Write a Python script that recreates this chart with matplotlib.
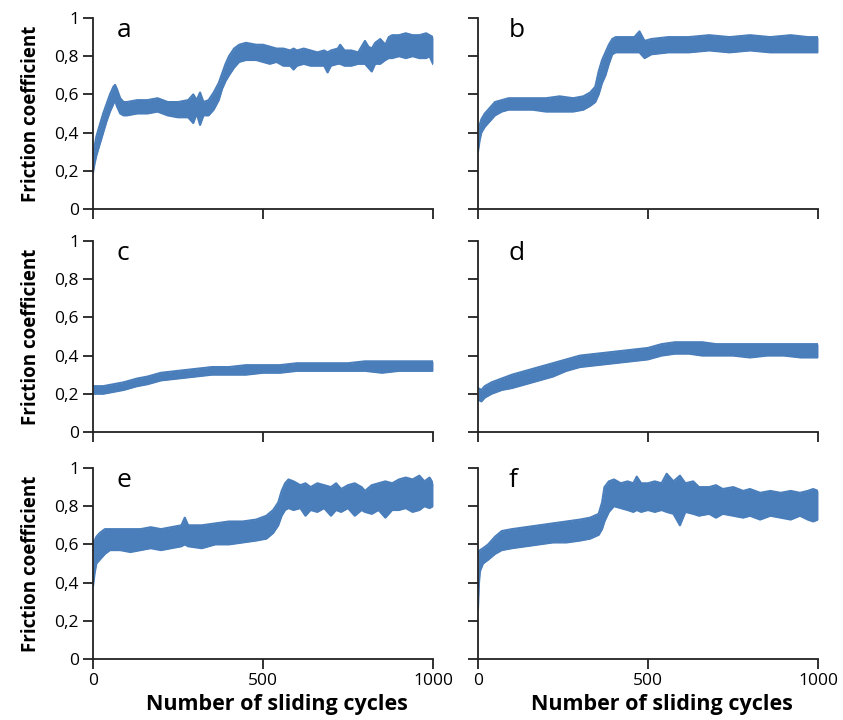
import numpy as np
import matplotlib.pyplot as plt

# friction coefficient bands (lower / upper edge of the noisy trace)
a_x = [0, 5, 10, 20, 30, 40, 50, 60, 65, 70, 80, 90, 100, 130, 160, 190, 220, 250, 280, 295,
       305, 315, 325, 340, 355, 370, 380, 390, 400, 415,
       430, 450, 480, 500, 520, 540, 560, 580, 590, 600, 620, 640, 660, 680, 690, 700, 720, 727, 740, 760,
       780, 800, 810, 820, 830, 845, 860, 870, 880, 900, 920, 940, 960, 980, 990, 1000]
a_lo = [0.19, 0.24, 0.28, 0.34, 0.40, 0.46, 0.51, 0.55, 0.57, 0.54, 0.50, 0.49, 0.49, 0.50, 0.50, 0.51, 0.49, 0.48, 0.48, 0.45,
        0.50, 0.44, 0.49, 0.49, 0.52, 0.57, 0.63, 0.67, 0.70, 0.74,
        0.77, 0.78, 0.78, 0.77, 0.76, 0.77, 0.75, 0.75, 0.73, 0.75, 0.76, 0.75, 0.75, 0.75, 0.715, 0.75, 0.76, 0.76, 0.75, 0.75,
        0.76, 0.76, 0.74, 0.72, 0.76, 0.76, 0.78, 0.79, 0.79, 0.80, 0.79, 0.80, 0.79, 0.79, 0.80, 0.76]
a_hi = [0.28, 0.33, 0.38, 0.44, 0.50, 0.55, 0.60, 0.64, 0.65, 0.63, 0.58, 0.56, 0.56, 0.57, 0.57, 0.58, 0.56, 0.56, 0.57, 0.60,
        0.57, 0.61, 0.56, 0.57, 0.61, 0.66, 0.71, 0.76, 0.80, 0.84,
        0.86, 0.87, 0.86, 0.86, 0.85, 0.84, 0.84, 0.83, 0.84, 0.83, 0.84, 0.83, 0.82, 0.83, 0.82, 0.83, 0.84, 0.86, 0.83, 0.83,
        0.82, 0.88, 0.85, 0.84, 0.87, 0.89, 0.86, 0.90, 0.91, 0.91, 0.92, 0.91, 0.91, 0.92, 0.91, 0.90]

b_x = [0, 5, 10, 20, 35, 50, 70, 90, 120, 160, 200, 240, 280, 310, 330, 345, 355, 365, 375, 385,
       395, 405, 430, 460, 475, 490, 510, 560, 620, 680, 740, 800, 860, 920, 970, 1000]
b_lo = [0.30, 0.36, 0.40, 0.43, 0.46, 0.49, 0.51, 0.52, 0.52, 0.52, 0.51, 0.51, 0.51, 0.52, 0.54, 0.56, 0.60, 0.66, 0.70, 0.76,
        0.81, 0.82, 0.82, 0.82, 0.82, 0.79, 0.81, 0.82, 0.82, 0.83, 0.82, 0.83, 0.82, 0.82, 0.82, 0.82]
b_hi = [0.42, 0.44, 0.47, 0.50, 0.53, 0.56, 0.57, 0.58, 0.58, 0.58, 0.58, 0.59, 0.58, 0.59, 0.61, 0.64, 0.72, 0.78, 0.82, 0.86,
        0.89, 0.90, 0.90, 0.90, 0.93, 0.88, 0.89, 0.90, 0.90, 0.91, 0.90, 0.91, 0.90, 0.91, 0.90, 0.90]

c_x = [0, 30, 60, 90, 110, 130, 160, 200, 250, 300, 350, 400, 450, 500, 550, 600, 650, 700, 750, 800,
       850, 900, 950, 1000]
c_lo = [0.20, 0.20, 0.21, 0.22, 0.23, 0.24, 0.25, 0.27, 0.28, 0.29, 0.30, 0.30, 0.30, 0.31, 0.31, 0.32, 0.32, 0.32, 0.32, 0.32,
        0.31, 0.32, 0.32, 0.32]
c_hi = [0.24, 0.24, 0.25, 0.26, 0.27, 0.28, 0.29, 0.31, 0.32, 0.33, 0.34, 0.34, 0.35, 0.35, 0.35, 0.36, 0.36, 0.36, 0.36, 0.37,
        0.37, 0.37, 0.37, 0.37]

d_x = [0, 10, 20, 40, 70, 100, 140, 180, 220, 260, 300, 350, 400, 450, 500, 540, 580, 620, 660, 700,
       750, 800, 850, 900, 950, 1000]
d_lo = [0.17, 0.16, 0.18, 0.20, 0.22, 0.23, 0.25, 0.27, 0.29, 0.32, 0.34, 0.35, 0.36, 0.37, 0.38, 0.40, 0.41, 0.41, 0.40, 0.40,
        0.40, 0.39, 0.40, 0.40, 0.39, 0.39]
d_hi = [0.23, 0.22, 0.24, 0.26, 0.28, 0.30, 0.32, 0.34, 0.36, 0.38, 0.40, 0.41, 0.42, 0.43, 0.44, 0.46, 0.47, 0.47, 0.47, 0.46,
        0.46, 0.46, 0.46, 0.46, 0.46, 0.46]

e_x = [0, 5, 10, 20, 35, 50, 80, 110, 140, 170, 200, 230, 260, 270, 280, 320, 360, 400, 440, 480,
       510, 530, 545, 555, 565, 575, 590, 610, 625, 640, 660, 680, 700, 715, 730, 750, 770, 790, 800, 820,
       840, 860, 880, 900, 920, 940, 960, 975, 990, 1000]
e_lo = [0.38, 0.45, 0.50, 0.52, 0.55, 0.57, 0.57, 0.56, 0.57, 0.58, 0.57, 0.58, 0.59, 0.60, 0.59, 0.58, 0.60, 0.60, 0.61, 0.62,
        0.63, 0.66, 0.70, 0.75, 0.78, 0.79, 0.78, 0.79, 0.75, 0.78, 0.77, 0.79, 0.75, 0.78, 0.77, 0.79, 0.75, 0.78, 0.77, 0.76,
        0.78, 0.74, 0.78, 0.78, 0.79, 0.77, 0.78, 0.80, 0.79, 0.80]
e_hi = [0.60, 0.62, 0.64, 0.66, 0.68, 0.68, 0.68, 0.68, 0.68, 0.69, 0.68, 0.69, 0.70, 0.74, 0.70, 0.70, 0.71, 0.72, 0.72, 0.73,
        0.75, 0.78, 0.82, 0.88, 0.92, 0.94, 0.93, 0.91, 0.92, 0.90, 0.92, 0.91, 0.90, 0.92, 0.89, 0.91, 0.92, 0.90, 0.88, 0.91,
        0.92, 0.93, 0.92, 0.94, 0.95, 0.94, 0.96, 0.93, 0.95, 0.92]

f_x = [0, 3, 6, 15, 30, 50, 70, 100, 140, 180, 220, 260, 300, 330,
       355, 365, 372, 385, 400, 420, 440, 457, 467, 480, 500, 520, 540, 555, 575, 594, 610, 633, 650, 680,
       700, 720, 751, 780, 800, 830, 860, 890, 920, 947, 970, 986, 1000]
f_lo = [0.26, 0.40, 0.46, 0.50, 0.52, 0.55, 0.57, 0.58, 0.59, 0.60, 0.61, 0.61, 0.62, 0.63,
        0.65, 0.68, 0.72, 0.77, 0.80, 0.79, 0.78, 0.77, 0.78, 0.77, 0.78, 0.77, 0.78, 0.77, 0.76, 0.70, 0.77, 0.76, 0.75, 0.76,
        0.74, 0.76, 0.75, 0.74, 0.75, 0.73, 0.75, 0.74, 0.73, 0.75, 0.73, 0.72, 0.73]
f_hi = [0.55, 0.56, 0.57, 0.58, 0.60, 0.64, 0.67, 0.68, 0.69, 0.70, 0.71, 0.72, 0.73, 0.74,
        0.76, 0.82, 0.90, 0.93, 0.94, 0.92, 0.93, 0.92, 0.955, 0.92, 0.92, 0.93, 0.92, 0.97, 0.93, 0.96, 0.92, 0.93, 0.90, 0.90,
        0.91, 0.89, 0.90, 0.88, 0.89, 0.87, 0.88, 0.87, 0.88, 0.87, 0.88, 0.89, 0.88]

panel_letters = ['a', 'b', 'c', 'd', 'e', 'f']
y_ticks = [0, 0.2, 0.4, 0.6, 0.8, 1]
y_ticklabels = ['0', '0,2', '0,4', '0,6', '0,8', '1']
x_ticks = [0, 500, 1000]
x_ticklabels = ['0', '500', '1000']

bands = [(a_x, a_lo, a_hi), (b_x, b_lo, b_hi), (c_x, c_lo, c_hi),
         (d_x, d_lo, d_hi), (e_x, e_lo, e_hi), (f_x, f_lo, f_hi)]

plt.rcParams['font.family'] = ['Open Sans', 'DejaVu Sans']
blue = '#4a7ebb'

fig = plt.figure(figsize=(8.43, 7.2), dpi=100)
lefts = [0.1103, 0.567]
bottoms = [0.7097, 0.40, 0.0847]
w, h = 0.4033, 0.2653

for i, (xs, lo, hi) in enumerate(bands):
    row, col = divmod(i, 2)
    ax = fig.add_axes([lefts[col], bottoms[row], w, h])
    ax.fill_between(xs, lo, hi, color=blue, linewidth=0)
    ax.plot(xs, lo, color=blue, lw=1.5)
    ax.plot(xs, hi, color=blue, lw=1.5)
    ax.set_xlim(0, 1000)
    ax.set_ylim(0, 1)
    for s in ['top', 'right']:
        ax.spines[s].set_visible(False)
    for s in ['left', 'bottom']:
        ax.spines[s].set_linewidth(1.3)
        ax.spines[s].set_color('#222222')
    ax.set_yticks(y_ticks)
    ax.set_xticks(x_ticks)
    ax.tick_params(direction='out', length=7, width=1.3, color='#222222', labelsize=12.5, pad=3)
    if col == 0:
        ax.set_yticklabels(y_ticklabels)
        ax.set_ylabel('Friction coefficient', fontsize=13.5, fontweight='bold', labelpad=10)
    else:
        ax.set_yticklabels([])
    if row == 2:
        ax.set_xticklabels(x_ticklabels)
        ax.set_xlabel('Number of sliding cycles', fontsize=15.5, fontweight='bold')
        ax.xaxis.set_label_coords(0.54, -0.185)
    else:
        ax.set_xticklabels([])
    ax.text(0.07 if col == 0 else 0.09, 0.9, panel_letters[i], transform=ax.transAxes,
            fontsize=19, va='baseline', ha='left')

fig.savefig('out.png', dpi=100)
